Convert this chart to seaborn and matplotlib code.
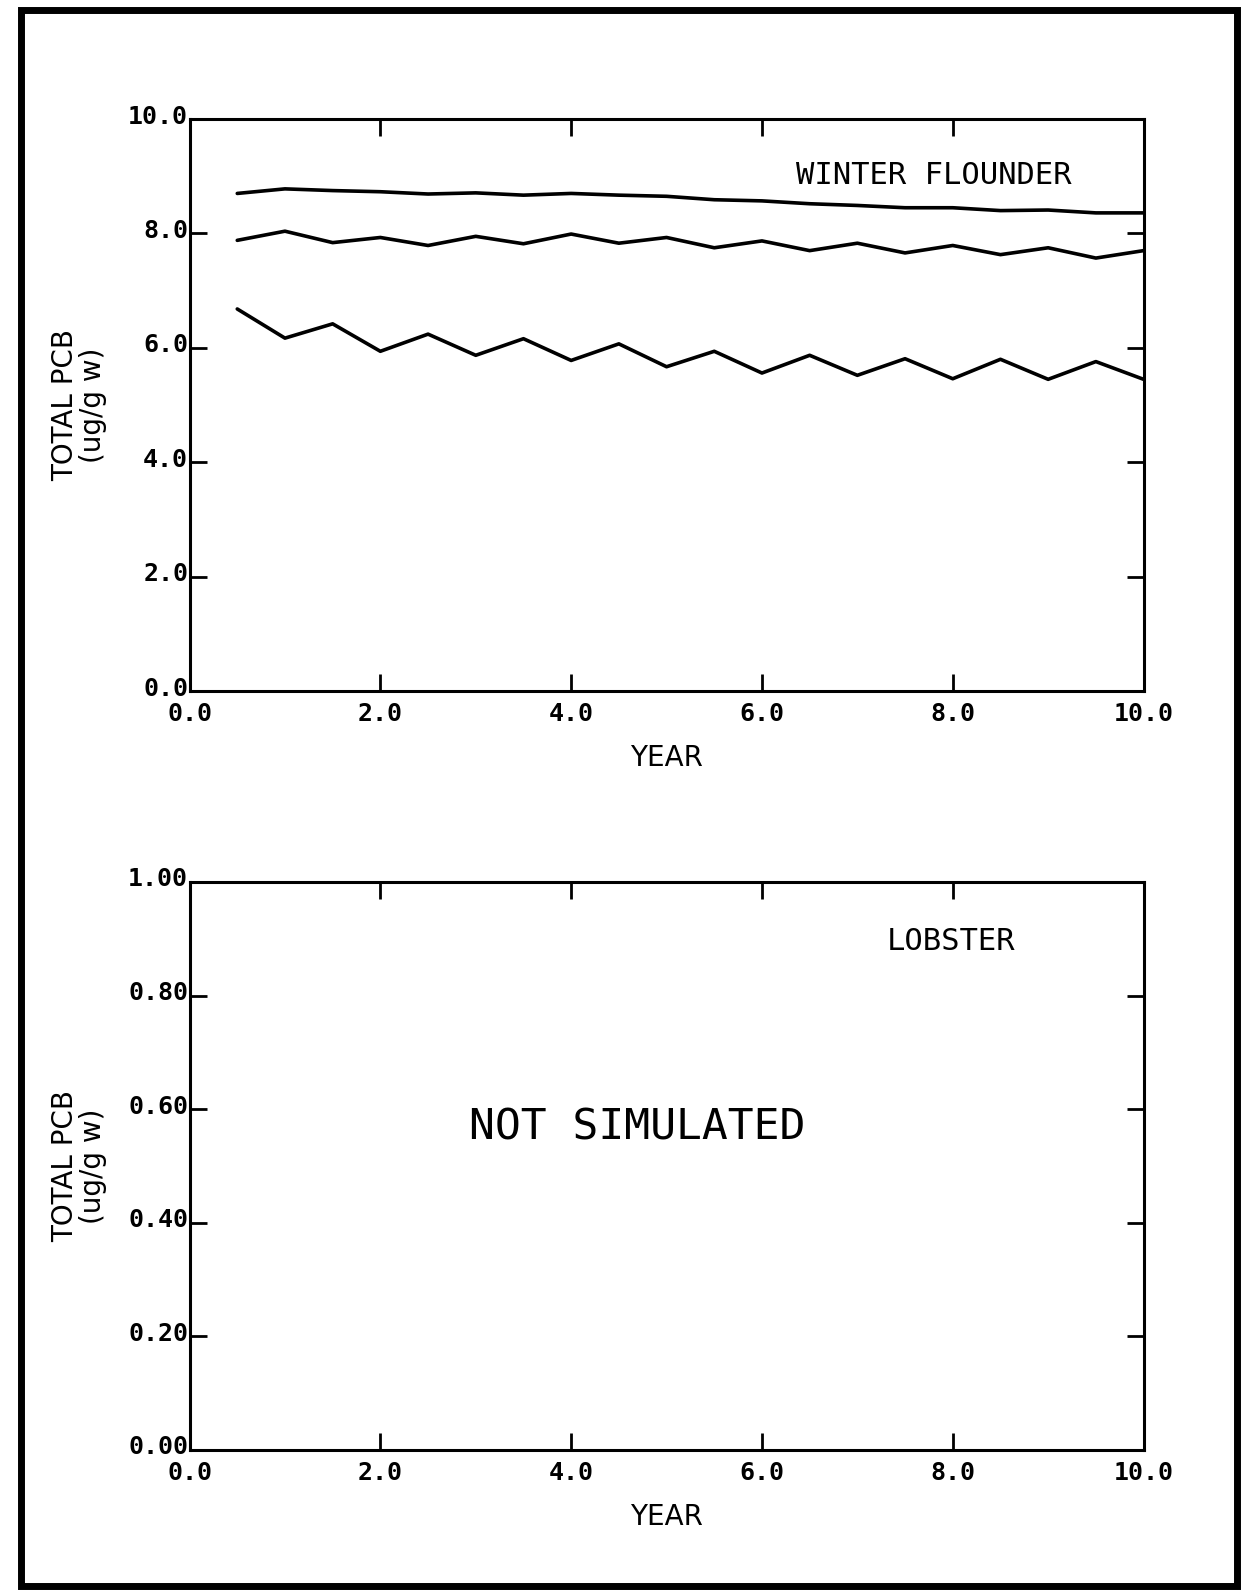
import matplotlib
matplotlib.use("Agg")
import matplotlib.pyplot as plt
import matplotlib.patches as mpatches
import matplotlib.transforms as mtransforms
import seaborn as sns
import pandas as pd

# ---------------- data ----------------
years = [0.5, 1.0, 1.5, 2.0, 2.5, 3.0, 3.5, 4.0, 4.5, 5.0,
         5.5, 6.0, 6.5, 7.0, 7.5, 8.0, 8.5, 9.0, 9.5, 10.0]
upper = [8.70, 8.78, 8.75, 8.73, 8.69, 8.71, 8.67, 8.70, 8.67, 8.65,
         8.59, 8.57, 8.52, 8.49, 8.45, 8.45, 8.40, 8.41, 8.36, 8.36]
middle = [7.88, 8.04, 7.84, 7.93, 7.79, 7.95, 7.82, 7.99, 7.83, 7.93,
          7.75, 7.87, 7.70, 7.83, 7.66, 7.79, 7.63, 7.75, 7.57, 7.70]
lower = [6.68, 6.17, 6.42, 5.94, 6.24, 5.87, 6.16, 5.78, 6.07, 5.67,
         5.94, 5.56, 5.87, 5.52, 5.81, 5.46, 5.80, 5.45, 5.76, 5.45]
series_names = ["upper", "middle", "lower"]

x_ticks = [0, 2, 4, 6, 8, 10]
x_ticklabels = ["0.0", "2.0", "4.0", "6.0", "8.0", "10.0"]
top_yticks = [0, 2, 4, 6, 8, 10]
top_yticklabels = ["0.0", "2.0", "4.0", "6.0", "8.0", "10.0"]
bot_yticks = [0.0, 0.2, 0.4, 0.6, 0.8, 1.0]
bot_yticklabels = ["0.00", "0.20", "0.40", "0.60", "0.80", "1.00"]

top_label = "WINTER FLOUNDER"
bot_label = "LOBSTER"
bot_note = "NOT SIMULATED"
xlabel = "YEAR"
ylabel = "TOTAL PCB\n(ug/g w)"

df = pd.DataFrame({
    "year": years * 3,
    "pcb": upper + middle + lower,
    "series": [s for s in series_names for _ in years],
})

# ---------------- style ----------------
sns.set_style("white")
plt.rcParams["font.family"] = ["DejaVu Sans Mono", "DejaVu Sans"]
plt.rcParams["text.color"] = "black"
plt.rcParams["axes.labelcolor"] = "black"

fig = plt.figure(figsize=(12.43, 15.90), dpi=100)
ax1 = fig.add_axes([0.1525, 0.5654, 0.7675, 0.3597])
ax2 = fig.add_axes([0.1525, 0.0881, 0.7675, 0.3572])

sns.lineplot(data=df, x="year", y="pcb", units="series", estimator=None,
             color="black", linewidth=2.6, ax=ax1, legend=False)

label_font = dict(family=["DejaVu Sans"], size=20, color="black")
up_shift = mtransforms.ScaledTranslation(0, 5 / 100, fig.dpi_scale_trans)

for ax, yt, ytl, ylim in [(ax1, top_yticks, top_yticklabels, (0, 10)),
                          (ax2, bot_yticks, bot_yticklabels, (0, 1))]:
    ax.set_xlim(0, 10)
    ax.set_ylim(*ylim)
    ax.set_xticks(x_ticks)
    ax.set_xticklabels(x_ticklabels)
    ax.set_yticks(yt)
    ax.set_yticklabels(ytl)
    ax.tick_params(direction="in", length=12, width=2, top=True, right=True,
                   bottom=True, left=True, labelsize=18, colors="black")
    ax.tick_params(axis="y", pad=1)
    ax.tick_params(axis="x", pad=8)
    for lbl in ax.get_yticklabels() + ax.get_xticklabels():
        lbl.set_fontweight("bold")
    for lbl in ax.get_yticklabels():
        lbl.set_va("center_baseline")
        lbl.set_transform(lbl.get_transform() + up_shift)
    for sp in ax.spines.values():
        sp.set_linewidth(2.2)
        sp.set_color("black")
    ax.set_xlabel(xlabel, fontdict=label_font, labelpad=13)
    ax.set_ylabel(ylabel, fontdict=label_font, labelpad=15, linespacing=1.0)

ax1.text(7.80, 9.01, top_label, ha="center", va="center", fontsize=22)
ax2.text(7.98, 0.895, bot_label, ha="center", va="center", fontsize=22)
ax2.text(4.69, 0.567, bot_note, ha="center", va="center", fontsize=31)

# outer frame
frame = mpatches.Rectangle((21 / 1243, 1 - 1586 / 1590), (1237 - 21) / 1243,
                           (1586 - 10) / 1590, transform=fig.transFigure,
                           fill=False, edgecolor="black", linewidth=5)
fig.patches.append(frame)

fig.savefig("out.png", dpi=100, facecolor="white")
